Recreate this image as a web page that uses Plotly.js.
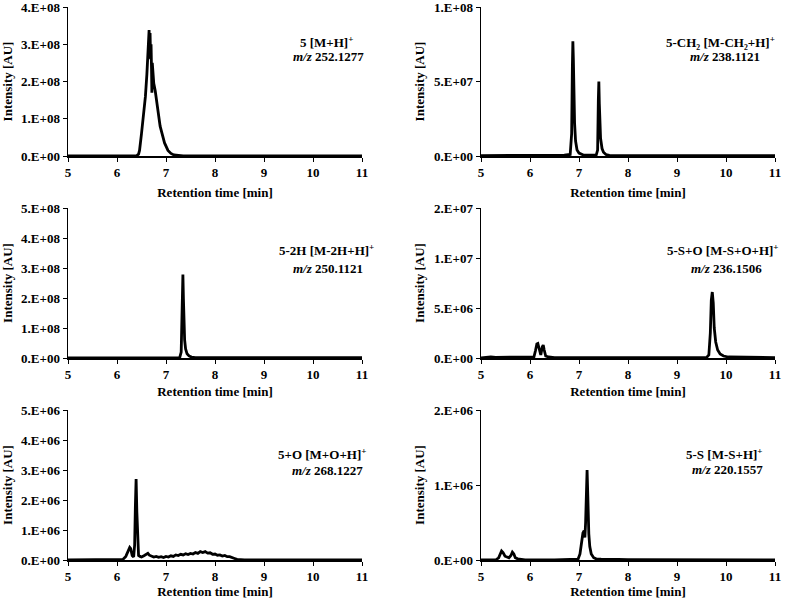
<!DOCTYPE html>
<html>
<head>
<meta charset="utf-8">
<script src="https://cdn.plot.ly/plotly-3.0.1.min.js"></script>
<style>html,body{margin:0;padding:0;background:#fff;}#chart{width:787px;height:599px;}</style>
</head>
<body>
<div id="chart"></div>
<script>
// Panel 1: 5 [M+H]+
var p1_x = [5, 6.0, 6.40, 6.44, 6.46, 6.50, 6.54, 6.58, 6.61, 6.63, 6.645, 6.655, 6.665, 6.675, 6.685, 6.695, 6.705, 6.712, 6.72, 6.735, 6.75, 6.78, 6.81, 6.84, 6.88, 6.92, 6.97, 7.04, 7.10, 7.16, 7.22, 7.30, 7.35, 8, 11];
var p1_y = [0, 0, 5e5, 5e6, 1.5e7, 6e7, 1.1e8, 1.6e8, 2.2e8, 2.8e8, 3.2e8, 3.38e8, 2.65e8, 3.3e8, 2.6e8, 3.0e8, 2.3e8, 1.7e8, 2.5e8, 2.1e8, 1.95e8, 1.75e8, 1.5e8, 1.15e8, 8e7, 6e7, 3.5e7, 1.5e7, 7e6, 3e6, 1.5e6, 5e5, 0, 0, 0];
// Panel 2: 5-CH2 [M-CH2+H]+
var p2_x = [5, 5.7, 5.75, 5.8, 5.95, 6.0, 6.4, 6.5, 6.6, 6.7, 6.82, 6.85, 6.865, 6.875, 6.885, 6.895, 6.91, 6.93, 6.96, 7.0, 7.05, 7.1, 7.35, 7.38, 7.395, 7.405, 7.415, 7.425, 7.44, 7.47, 7.5, 7.55, 7.62, 8, 11];
var p2_y = [2e5, 2e5, 6e5, 2e5, 6e5, 2e5, 4e5, 7e5, 4e5, 6e5, 1e6, 1.5e7, 6e7, 7.7e7, 6.5e7, 3.5e7, 2.2e7, 1e7, 4e6, 2e6, 1e6, 5e5, 5e5, 4e6, 3.8e7, 5e7, 3.5e7, 1.8e7, 1.2e7, 5e6, 2.5e6, 1e6, 4e5, 3e5, 3e5];
// Panel 3: 5-2H [M-2H+H]+
var p3_x = [5, 6.2, 6.5, 7.0, 7.28, 7.31, 7.33, 7.345, 7.355, 7.365, 7.38, 7.40, 7.43, 7.47, 7.52, 7.6, 8, 9, 10, 10.5, 11];
var p3_y = [0, 1.5e6, 1.5e6, 1.5e6, 1.5e6, 2e7, 1.6e8, 2.78e8, 2e8, 9e7, 6e7, 3e7, 1.4e7, 7e6, 3e6, 1.5e6, 1.5e6, 1.5e6, 1.5e6, 1e6, 1e6];
// Panel 4: 5-S+O [M-S+O+H]+
var p4_x = [5, 5.1, 5.2, 5.3, 6.0, 6.08, 6.11, 6.14, 6.16, 6.19, 6.22, 6.25, 6.27, 6.29, 6.32, 6.38, 6.5, 7, 8, 9, 9.6, 9.65, 9.68, 9.70, 9.72, 9.74, 9.76, 9.79, 9.83, 9.88, 9.95, 10.05, 10.5, 11];
var p4_y = [0, 8e4, 1e5, 7e4, 4e4, 1e5, 7e5, 1.4e6, 1.45e6, 8e5, 3e5, 1.1e6, 1.3e6, 8e5, 2e5, 1e5, 4e4, 4e4, 4e4, 4e4, 4e4, 3e5, 2.5e6, 5.8e6, 6.6e6, 5.5e6, 3e6, 1.6e6, 8e5, 4e5, 2e5, 1e5, 4e4, 4e4];
// Panel 5: 5+O [M+O+H]+
var p5_x = [5, 6.0, 6.12, 6.18, 6.22, 6.26, 6.28, 6.31, 6.34, 6.36, 6.375, 6.39, 6.405, 6.42, 6.44, 6.47, 6.5, 6.55, 6.6, 6.63, 6.66, 6.7, 6.75, 6.8, 6.85, 6.9, 6.95, 7.0, 7.05, 7.1, 7.15, 7.2, 7.25, 7.3, 7.35, 7.4, 7.45, 7.5, 7.55, 7.6, 7.65, 7.7, 7.75, 7.8, 7.85, 7.9, 7.95, 8.0, 8.05, 8.1, 8.15, 8.2, 8.25, 8.3, 8.35, 8.4, 8.45, 8.5, 8.6, 9.0, 9.4, 11];
var p5_y = [0, 0, 2e4, 1.2e5, 2.8e5, 4.2e5, 3.8e5, 1.5e5, 1e5, 5e5, 1.8e6, 2.7e6, 1.6e6, 5e5, 1.5e5, 1.2e5, 1e5, 1.4e5, 1.8e5, 2.2e5, 1.6e5, 1.3e5, 1e5, 1.2e5, 9e4, 1.1e5, 8e4, 1.2e5, 1e5, 1.4e5, 1.2e5, 1.7e5, 1.5e5, 1.9e5, 1.7e5, 2.1e5, 1.8e5, 2.2e5, 2e5, 2.5e5, 2.2e5, 2.8e5, 2.5e5, 2.8e5, 2.3e5, 2.4e5, 1.9e5, 2e5, 1.6e5, 1.7e5, 1.3e5, 1.5e5, 1.1e5, 1.1e5, 7e4, 5e4, 2e4, 1e4, 5e3, 5e3, 0, 0];
// Panel 6: 5-S [M-S+H]+
var p6_x = [5, 5.3, 5.36, 5.39, 5.42, 5.45, 5.49, 5.53, 5.57, 5.61, 5.64, 5.67, 5.7, 5.75, 5.82, 5.9, 6.5, 6.98, 7.02, 7.05, 7.08, 7.105, 7.12, 7.135, 7.15, 7.165, 7.18, 7.19, 7.2, 7.22, 7.25, 7.3, 7.35, 7.45, 7.6, 7.8, 8, 9, 10, 10.8, 11];
var p6_y = [0, 0, 3e4, 9e4, 1.2e5, 1e5, 5e4, 4e4, 3e4, 6e4, 1.05e5, 8e4, 3e4, 1.5e4, 8e3, 3e3, 0, 1e4, 8e4, 2.2e5, 3.6e5, 3.9e5, 3e5, 5e5, 1e6, 1.2e6, 8.5e5, 4e5, 3.5e5, 1.8e5, 8e4, 3e4, 1.5e4, 1e4, 5e3, 8e3, 5e3, 3e3, 3e3, 5e3, 0];

var xTickVals = [5, 6, 7, 8, 9, 10, 11];
var xTickText = ["5", "6", "7", "8", "9", "10", "11"];

var yTickVals = [
  [0, 1e8, 2e8, 3e8, 4e8],
  [0, 5e7, 1e8],
  [0, 1e8, 2e8, 3e8, 4e8, 5e8],
  [0, 5e6, 1e7, 1.5e7],
  [0, 1e6, 2e6, 3e6, 4e6, 5e6],
  [0, 1e6, 2e6]
];
var yTickText = [
  ["0.E+00", "1.E+08", "2.E+08", "3.E+08", "4.E+08"],
  ["0.E+00", "5.E+07", "1.E+08"],
  ["0.E+00", "1.E+08", "2.E+08", "3.E+08", "4.E+08", "5.E+08"],
  ["0.E+00", "5.E+06", "1.E+07", "2.E+07"],
  ["0.E+00", "1.E+06", "2.E+06", "3.E+06", "4.E+06", "5.E+06"],
  ["0.E+00", "1.E+06", "2.E+06"]
];
var yMax = [4e8, 1e8, 5e8, 1.5e7, 5e6, 2e6];

var labelLine1 = ["5 [M+H]<sup>+</sup>", "5-CH₂ [M-CH₂+H]<sup>+</sup>", "5-2H [M-2H+H]<sup>+</sup>", "5-S+O [M-S+O+H]<sup>+</sup>", "5+O [M+O+H]<sup>+</sup>", "5-S [M-S+H]<sup>+</sup>"];
var labelLine2 = ["<i>m/z</i> 252.1277", "<i>m/z</i> 238.1121", "<i>m/z</i> 250.1121", "<i>m/z</i> 236.1506", "<i>m/z</i> 268.1227", "<i>m/z</i> 220.1557"];

var xs = [p1_x, p2_x, p3_x, p4_x, p5_x, p6_x];
var ys = [p1_y, p2_y, p3_y, p4_y, p5_y, p6_y];

// layout geometry (px)
var W = 787, H = 599;
var colPx = [[68, 362], [481, 775]];
var rowPx = [[7, 156], [208, 358], [410, 560]];
var xTitleStandoff = [9, 6, 4];
var lab1Px = [[326, 42], [720, 42], [326, 250], [723, 250], [322, 454], [724, 454]];
var lab2Px = [[328, 57], [725, 57], [328, 268], [726, 268], [327, 470], [727, 469]];

var FONT = "Liberation Serif, Times New Roman, serif";
var traces = [];
var layout = {
  width: W, height: H,
  margin: {l: 0, r: 0, t: 0, b: 0},
  paper_bgcolor: "#ffffff", plot_bgcolor: "#ffffff",
  showlegend: false,
  font: {family: FONT, size: 13, color: "#000", weight: "bold"},
  annotations: []
};
for (var i = 0; i < 6; i++) {
  var c = i % 2, r = Math.floor(i / 2);
  var sfx = i === 0 ? "" : String(i + 1);
  traces.push({
    x: xs[i], y: ys[i], type: "scatter", mode: "lines",
    xaxis: "x" + sfx, yaxis: "y" + sfx,
    line: {color: "#000", width: 2.8}, hoverinfo: "skip"
  });
  layout["xaxis" + sfx] = {
    domain: [colPx[c][0] / W, colPx[c][1] / W],
    anchor: "y" + sfx, range: [5, 11], fixedrange: true,
    tickmode: "array", tickvals: xTickVals, ticktext: xTickText,
    showgrid: false, zeroline: false, showline: true, linecolor: "#000", linewidth: 1.5,
    ticks: "outside", ticklen: 4, tickwidth: 1, tickcolor: "#000",
    ticklabeloverflow: "allow",
    tickfont: {family: FONT, size: 13, color: "#000", weight: "bold"},
    title: {text: "Retention time [min]", font: {family: FONT, size: 13, color: "#000", weight: "bold"}, standoff: xTitleStandoff[r]}
  };
  layout["yaxis" + sfx] = {
    domain: [1 - rowPx[r][1] / H, 1 - rowPx[r][0] / H],
    anchor: "x" + sfx, range: [0, yMax[i]], fixedrange: true,
    tickmode: "array", tickvals: yTickVals[i], ticktext: yTickText[i],
    showgrid: false, zeroline: false, showline: true, linecolor: "#000", linewidth: 1.5,
    ticks: "outside", ticklen: 4, tickwidth: 1, tickcolor: "#000",
    ticklabeloverflow: "allow",
    tickfont: {family: FONT, size: 13, color: "#000", weight: "bold"},
    title: {text: "Intensity [AU]", font: {family: FONT, size: 13, color: "#000", weight: "bold"}, standoff: 6}
  };
  layout.annotations.push({
    xref: "paper", yref: "paper", x: lab1Px[i][0] / W, y: 1 - lab1Px[i][1] / H,
    xanchor: "center", yanchor: "middle", showarrow: false, text: labelLine1[i],
    font: {family: FONT, size: 13, color: "#000", weight: "bold"}
  });
  layout.annotations.push({
    xref: "paper", yref: "paper", x: lab2Px[i][0] / W, y: 1 - lab2Px[i][1] / H,
    xanchor: "center", yanchor: "middle", showarrow: false, text: labelLine2[i],
    font: {family: FONT, size: 13, color: "#000", weight: "bold"}
  });
}
Plotly.newPlot("chart", traces, layout, {displayModeBar: false, staticPlot: true});
</script>
</body>
</html>
